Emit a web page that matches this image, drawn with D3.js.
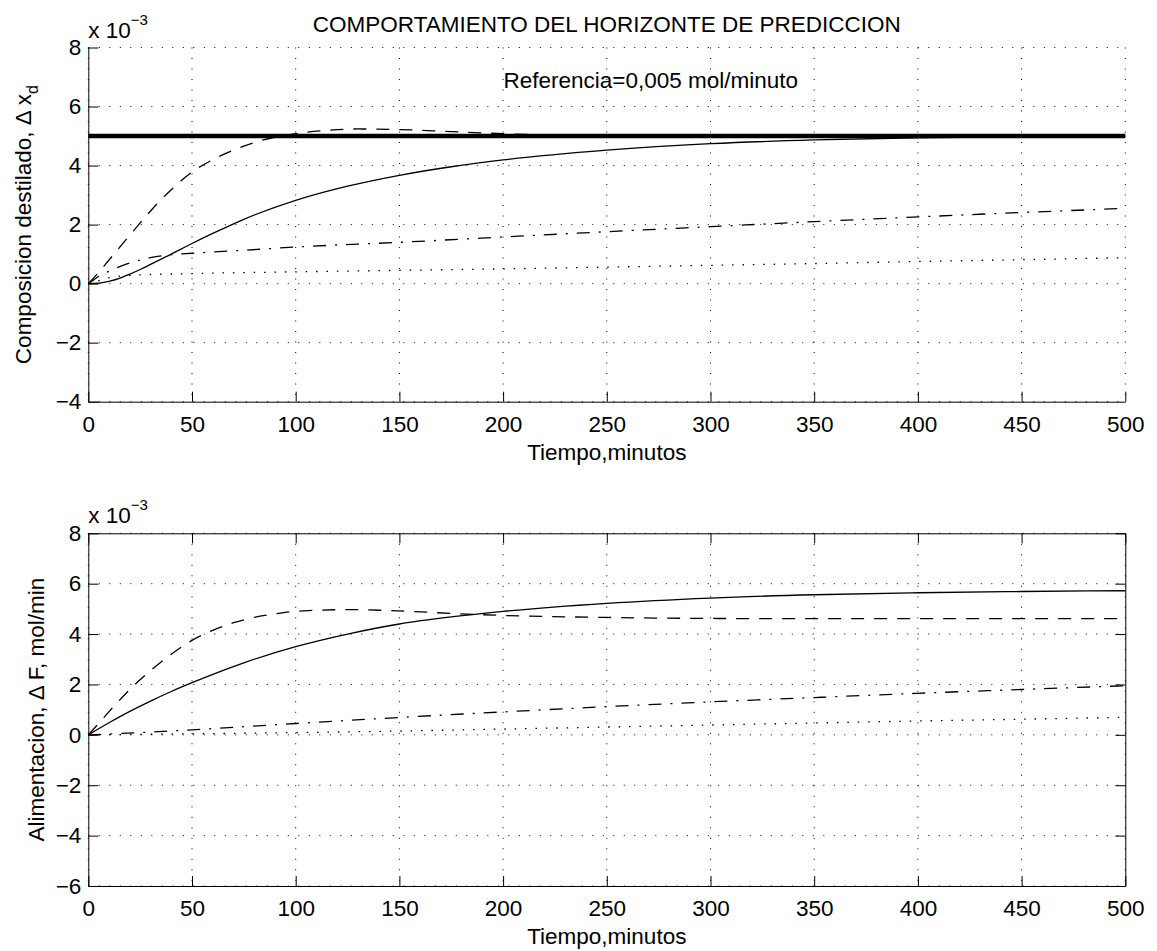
<!DOCTYPE html>
<html>
<head>
<meta charset="utf-8">
<script src="https://cdn.jsdelivr.net/npm/d3@7"></script>
<style>
body { margin: 0; background: #fff; }
svg { display: block; font-family: "Liberation Sans", Arial, Helvetica, sans-serif; }
</style>
</head>
<body>
<svg id="chart" width="1157" height="951"></svg>
<script>
// tick labels
var xTicks = [0, 50, 100, 150, 200, 250, 300, 350, 400, 450, 500];
var topYTicks = [-4, -2, 0, 2, 4, 6, 8];
var botYTicks = [-6, -4, -2, 0, 2, 4, 6, 8];

// top panel (values in units of 1e-3)
var refT = [0, 500];
var refV = [5, 5];
var topSolidT = [0, 5, 10, 15, 20, 25, 30, 40, 50, 60, 75, 100, 125, 150, 175, 200, 250, 300, 350, 400, 450, 500];
var topSolidV = [0, 0.02, 0.08, 0.18, 0.32, 0.48, 0.65, 1.0, 1.36, 1.7, 2.18, 2.82, 3.3, 3.67, 3.96, 4.19, 4.52, 4.74, 4.87, 4.94, 4.98, 5.0];
var topDashT = [0, 5, 10, 15, 20, 25, 30, 35, 40, 45, 50, 60, 70, 80, 90, 100, 115, 130, 150, 175, 200, 225, 250, 300, 500];
var topDashV = [0, 0.38, 0.8, 1.22, 1.64, 2.06, 2.46, 2.84, 3.18, 3.5, 3.78, 4.2, 4.52, 4.78, 4.96, 5.08, 5.19, 5.24, 5.22, 5.15, 5.08, 5.03, 5.01, 5.0, 5.0];
var topDashDotT = [0, 2, 5, 10, 20, 30, 40, 50, 75, 100, 150, 200, 250, 300, 350, 400, 450, 500];
var topDashDotV = [0, 0.1, 0.25, 0.42, 0.7, 0.88, 0.98, 1.03, 1.13, 1.24, 1.4, 1.58, 1.76, 1.93, 2.1, 2.26, 2.41, 2.55];
var topDotT = [0, 5, 10, 20, 50, 100, 150, 200, 250, 300, 350, 400, 450, 500];
var topDotV = [0, 0.1, 0.2, 0.28, 0.34, 0.4, 0.45, 0.5, 0.56, 0.62, 0.68, 0.75, 0.81, 0.88];

// bottom panel
var botSolidT = [0, 10, 20, 30, 40, 50, 75, 100, 125, 150, 175, 200, 250, 300, 350, 400, 450, 500];
var botSolidV = [0, 0.48, 0.93, 1.34, 1.72, 2.07, 2.86, 3.5, 4.0, 4.4, 4.68, 4.9, 5.22, 5.43, 5.56, 5.64, 5.69, 5.72];
var botDashT = [0, 5, 10, 15, 20, 30, 40, 50, 60, 70, 80, 90, 100, 125, 150, 175, 200, 250, 300, 350, 400, 450, 500];
var botDashV = [0, 0.45, 0.92, 1.37, 1.8, 2.55, 3.2, 3.75, 4.15, 4.45, 4.66, 4.8, 4.9, 4.97, 4.92, 4.82, 4.74, 4.66, 4.62, 4.61, 4.61, 4.61, 4.61];
var botDashDotT = [0, 25, 50, 100, 150, 200, 250, 300, 350, 400, 450, 500];
var botDashDotV = [0, 0.09, 0.2, 0.45, 0.69, 0.91, 1.12, 1.31, 1.48, 1.65, 1.8, 1.95];
var botDotT = [0, 50, 100, 150, 200, 250, 300, 350, 400, 450, 500];
var botDotV = [0, 0.04, 0.09, 0.15, 0.23, 0.31, 0.39, 0.47, 0.55, 0.62, 0.7];

var svg = d3.select("#chart");
var left = 88.3, right = 1125.3;

function fmt(d) { return d < 0 ? "\u2212" + (-d) : String(d); }

function zip(t, v) { return t.map(function (d, i) { return [d, v[i]]; }); }

function panel(o) {
  var x = d3.scaleLinear().domain([0, 500]).range([left, right]);
  var y = d3.scaleLinear().domain(o.yDomain).range([o.bottom, o.top]);
  var g = svg.append("g");

  // dotted grid
  g.append("g").selectAll("line").data(xTicks).enter().append("line")
    .attr("x1", x).attr("x2", x).attr("y1", o.top).attr("y2", o.bottom)
    .attr("stroke", "#000").attr("stroke-width", 1).attr("stroke-dasharray", "1,9.5");
  g.append("g").selectAll("line").data(o.yTicks).enter().append("line")
    .attr("y1", y).attr("y2", y).attr("x1", left).attr("x2", right)
    .attr("stroke", "#000").attr("stroke-width", 1).attr("stroke-dasharray", "1,9.5");

  // series
  var line = d3.line()
    .x(function (d) { return x(d[0]); })
    .y(function (d) { return y(d[1]); })
    .curve(d3.curveMonotoneX);
  o.series.forEach(function (s) {
    g.append("path").datum(zip(s.t, s.v))
      .attr("fill", "none").attr("stroke", "#000")
      .attr("stroke-width", s.w || 1.3)
      .attr("stroke-dasharray", s.dash || null)
      .attr("d", line);
  });

  // axes
  var ax = g.append("g").attr("transform", "translate(0," + o.bottom + ")")
    .call(d3.axisBottom(x).tickValues(xTicks).tickSize(-10).tickSizeOuter(0).tickPadding(14).tickFormat(fmt));
  var ay = g.append("g").attr("transform", "translate(" + left + ",0)")
    .call(d3.axisLeft(y).tickValues(o.yTicks).tickSize(-10).tickSizeOuter(0).tickPadding(7).tickFormat(fmt));
  [ax, ay].forEach(function (a) {
    a.attr("font-family", null).attr("font-size", 22.5);
    a.selectAll("text").attr("fill", "#000");
    a.selectAll("line,path").attr("stroke", "#000");
  });
  if (o.box) {
    g.append("g").attr("transform", "translate(0," + o.top + ")")
      .call(d3.axisTop(x).tickValues(xTicks).tickSize(-10).tickSizeOuter(0).tickFormat(""))
      .selectAll("line,path").attr("stroke", "#000");
    g.append("g").attr("transform", "translate(" + right + ",0)")
      .call(d3.axisRight(y).tickValues(o.yTicks).tickSize(-10).tickSizeOuter(0).tickFormat(""))
      .selectAll("line,path").attr("stroke", "#000");
  }

  // exponent label
  var ex = g.append("text").attr("x", left).attr("y", o.top - 10)
    .attr("font-size", 22.5).attr("fill", "#000");
  ex.append("tspan").text("x 10");
  ex.append("tspan").attr("dy", -13).attr("font-size", 15).text("\u22123");

  // x label
  g.append("text").attr("x", (left + right) / 2).attr("y", o.bottom + 58)
    .attr("text-anchor", "middle").attr("font-size", 22.5).attr("fill", "#000")
    .text("Tiempo,minutos");

  // y label
  var yl = g.append("text")
    .attr("transform", "translate(" + o.ylabelX + "," + ((o.top + o.bottom) / 2) + ") rotate(-90)")
    .attr("text-anchor", "middle").attr("font-size", 22.5).attr("fill", "#000");
  yl.append("tspan").text(o.ylabel);
  if (o.ysub) {
    yl.append("tspan").attr("dy", 7).attr("font-size", 16).text(o.ysub);
  }
  return { g: g, x: x, y: y };
}

var p1 = panel({
  top: 47.5, bottom: 401.7, yDomain: [-4, 8], yTicks: topYTicks, box: false,
  ylabel: "Composicion destilado, \u0394 x", ysub: "d", ylabelX: 31,
  series: [
    { t: topDotT, v: topDotV, dash: "1.5,8.9" },
    { t: topDashDotT, v: topDashDotV, dash: "13,9,2,9" },
    { t: topDashT, v: topDashV, dash: "13,10" },
    { t: topSolidT, v: topSolidV },
    { t: refT, v: refV, w: 4.5 }
  ]
});
p1.g.append("text").attr("x", (left + right) / 2).attr("y", 32)
  .attr("text-anchor", "middle").attr("font-size", 22.5).attr("fill", "#000")
  .text("COMPORTAMIENTO DEL HORIZONTE DE PREDICCION");
p1.g.append("text").attr("x", 503.5).attr("y", 88)
  .attr("font-size", 22.5).attr("fill", "#000")
  .text("Referencia=0,005 mol/minuto");

panel({
  top: 533.3, bottom: 886, yDomain: [-6, 8], yTicks: botYTicks, box: true,
  ylabel: "Alimentacion, \u0394 F, mol/min", ylabelX: 44,
  series: [
    { t: botDotT, v: botDotV, dash: "1.5,8.9" },
    { t: botDashDotT, v: botDashDotV, dash: "13,9,2,9" },
    { t: botDashT, v: botDashV, dash: "13,10" },
    { t: botSolidT, v: botSolidV }
  ]
});
</script>
</body>
</html>
